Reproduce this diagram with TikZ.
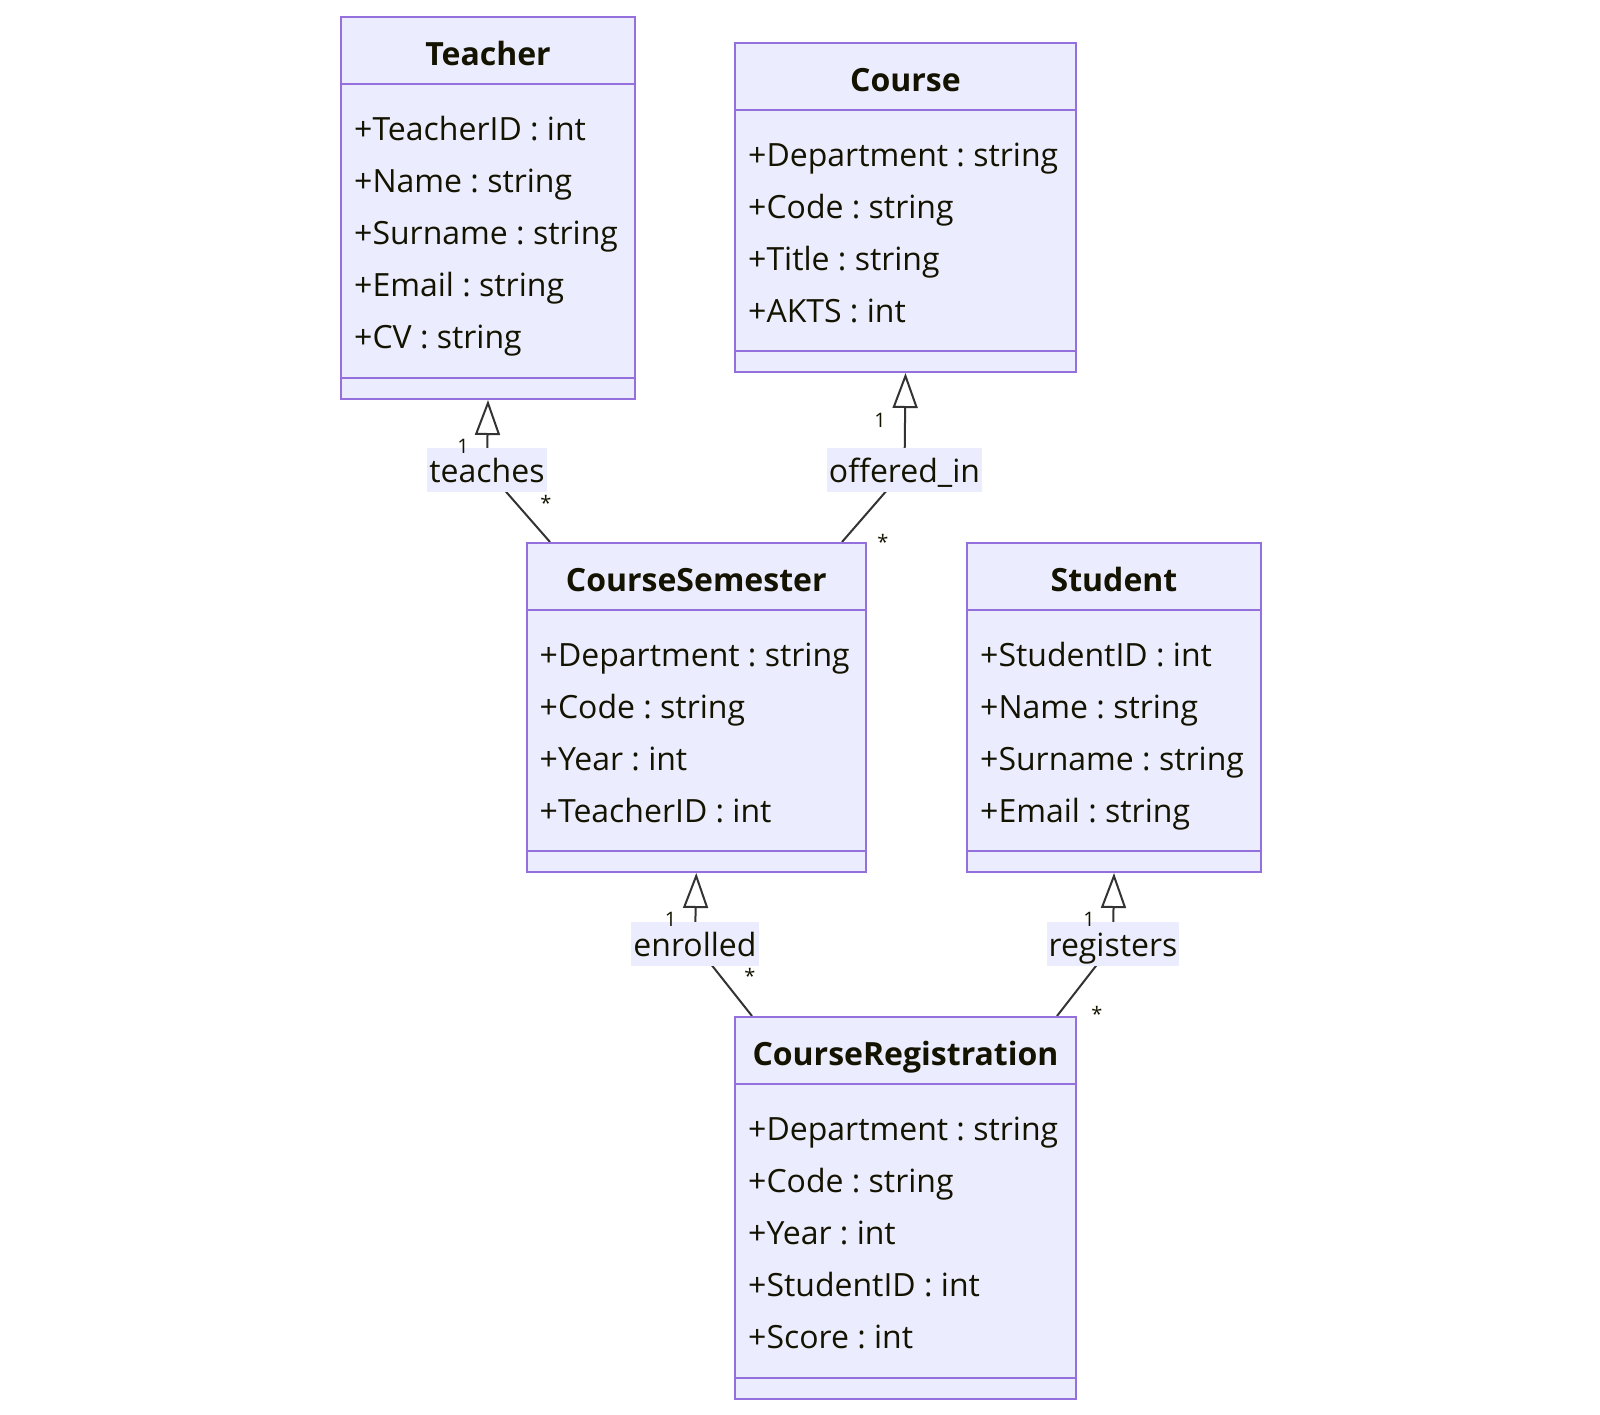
\documentclass[tikz,border=0pt]{standalone}
\usepackage{fontspec}
\setmainfont{Open Sans}
\usepackage{tikz}
\usetikzlibrary{arrows.meta,positioning,calc,backgrounds}
\usepackage{xcolor}
\definecolor{umlfill}{HTML}{ECECFF}
\definecolor{umlborder}{HTML}{9370DB}
\definecolor{umltext}{HTML}{131300}
\definecolor{umlline}{HTML}{333333}
\tikzset{
  classbox/.style={draw=umlborder, fill=umlfill, line width=2pt, anchor=north west, inner sep=0pt},
  classrule/.style={draw=umlborder, line width=2pt},
  classtitle/.style={anchor=base, inner sep=0pt, text=umltext, font=\fontsize{32}{38}\selectfont\bfseries},
  attr/.style={anchor=base west, inner sep=0pt, text=umltext, font=\fontsize{32}{38}\selectfont},
  rellabel/.style={fill=umlfill, text=umltext, inner xsep=2pt, inner ysep=0pt, text height=28pt, text depth=4pt, minimum height=44pt, font=\fontsize{32}{38}\selectfont},
  mult/.style={inner sep=0pt, text=umltext, font=\fontsize{20}{24}\selectfont},
  assoc/.style={draw=umlline, line width=2pt, -{Triangle[open, length=35pt, width=25pt]}}
}
\frenchspacing
\begin{document}
\begin{tikzpicture}[x=1pt, y=-1pt]
\useasboundingbox (0,0) rectangle (1600,1414);
% Teacher
\node[classbox, minimum width=294pt, minimum height=382pt] (teacher) at (340,16) {};
\node[classtitle] (teacher-t) at ([yshift=-49pt]teacher.north) {Teacher};
\draw[classrule] ([yshift=-68pt]teacher.north west) -- ([yshift=-68pt]teacher.north east);
\draw[classrule] ([yshift=22pt]teacher.south west) -- ([yshift=22pt]teacher.south east);
\foreach \a [count=\i] in {+TeacherID : int, +Name : string, +Surname : string, +Email : string, +CV : string}
  \node[attr] (teacher-a\i) at ([xshift=14pt, yshift=-72pt-52pt*\i]teacher.north west) {\a};
% Course
\node[classbox, minimum width=341pt, minimum height=329pt] (course) at (734,42) {};
\node[classtitle] (course-t) at ([yshift=-49pt]course.north) {Course};
\draw[classrule] ([yshift=-68pt]course.north west) -- ([yshift=-68pt]course.north east);
\draw[classrule] ([yshift=22pt]course.south west) -- ([yshift=22pt]course.south east);
\foreach \a [count=\i] in {+Department : string, +Code : string, +Title : string, +AKTS : int}
  \node[attr] (course-a\i) at ([xshift=14pt, yshift=-72pt-52pt*\i]course.north west) {\a};
% CourseSemester
\node[classbox, minimum width=339.5pt, minimum height=329pt] (cs) at (525.5,542) {};
\node[classtitle] (cs-t) at ([yshift=-49pt]cs.north) {CourseSemester};
\draw[classrule] ([yshift=-68pt]cs.north west) -- ([yshift=-68pt]cs.north east);
\draw[classrule] ([yshift=22pt]cs.south west) -- ([yshift=22pt]cs.south east);
\foreach \a [count=\i] in {+Department : string, +Code : string, +Year : int, +TeacherID : int}
  \node[attr] (cs-a\i) at ([xshift=14pt, yshift=-72pt-52pt*\i]cs.north west) {\a};
% Student
\node[classbox, minimum width=294pt, minimum height=329pt] (student) at (966,542) {};
\node[classtitle] (student-t) at ([yshift=-49pt]student.north) {Student};
\draw[classrule] ([yshift=-68pt]student.north west) -- ([yshift=-68pt]student.north east);
\draw[classrule] ([yshift=22pt]student.south west) -- ([yshift=22pt]student.south east);
\foreach \a [count=\i] in {+StudentID : int, +Name : string, +Surname : string, +Email : string}
  \node[attr] (student-a\i) at ([xshift=14pt, yshift=-72pt-52pt*\i]student.north west) {\a};
% CourseRegistration
\node[classbox, minimum width=341pt, minimum height=382pt] (creg) at (734,1016) {};
\node[classtitle] (creg-t) at ([yshift=-49pt]creg.north) {CourseRegistration};
\draw[classrule] ([yshift=-68pt]creg.north west) -- ([yshift=-68pt]creg.north east);
\draw[classrule] ([yshift=22pt]creg.south west) -- ([yshift=22pt]creg.south east);
\foreach \a [count=\i] in {+Department : string, +Code : string, +Year : int, +StudentID : int, +Score : int}
  \node[attr] (creg-a\i) at ([xshift=14pt, yshift=-72pt-52pt*\i]creg.north west) {\a};
% relations
\node[rellabel] (teaches) at (487,470) {teaches};
\node[rellabel] (offered) at (904.5,470) {offered\_in};
\node[rellabel] (enrolled) at (695,944) {enrolled};
\node[rellabel] (registers) at (1113,944) {registers};
\node[mult] (teaches-1) at (463,446) {1};
\node[mult] (teaches-n) at (546,503) {*};
\node[mult] (offered-1) at (880,420) {1};
\node[mult] (offered-n) at (883,542) {*};
\node[mult] (enrolled-1) at (670.5,919) {1};
\node[mult] (enrolled-n) at (750,976) {*};
\node[mult] (registers-1) at (1089,919) {1};
\node[mult] (registers-n) at (1097,1014) {*};
\begin{pgfonlayer}{background}
\draw[assoc] ([xshift=24.5pt]cs.north west) -- (teaches.center) -- (teacher.south);
\draw[assoc] ([xshift=316.5pt]cs.north west) -- (offered.center) -- (course.south);
\draw[assoc] ([xshift=18pt]creg.north west) -- (enrolled.center) -- (cs.south);
\draw[assoc] ([xshift=323pt]creg.north west) -- (registers.center) -- (student.south);
\end{pgfonlayer}
\end{tikzpicture}
\end{document}
